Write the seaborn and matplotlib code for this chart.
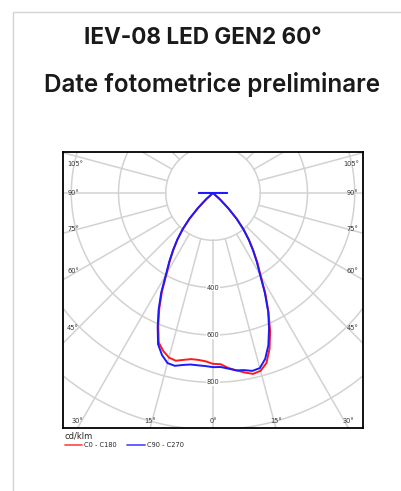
import numpy as np
import pandas as pd
import matplotlib
matplotlib.use("Agg")
import matplotlib.pyplot as plt
import seaborn as sns
from matplotlib.patches import Rectangle

# Photometric data, cd/klm, gamma angle measured from nadir
gamma = [0, 2.5, 5, 7.5, 10, 12.5, 15, 17.5, 20, 22.5, 25, 27.5, 30, 32.5, 35,
         37.5, 40, 42.5, 45, 47.5, 50, 55, 60, 65, 70, 75, 80, 85, 90]
c0 = [722, 724, 742, 756, 770, 783, 778, 753, 700, 632, 555, 480, 403, 350, 298,
      250, 202, 150, 92, 40, 0, 0, 0, 0, 0, 0, 0, 0, 60]
c180 = [722, 712, 708, 708, 716, 726, 720, 700, 672, 606, 538, 467, 393, 340, 292,
        246, 198, 146, 88, 38, 0, 0, 0, 0, 0, 0, 0, 0, 60]
c90 = [736, 736, 745, 756, 760, 770, 766, 735, 685, 620, 553, 475, 398, 345, 295,
       248, 200, 148, 90, 40, 0, 0, 0, 0, 0, 0, 0, 0, 60]
c270 = [736, 732, 731, 731, 738, 748, 744, 718, 680, 612, 545, 475, 398, 345, 295,
        248, 200, 148, 90, 40, 0, 0, 0, 0, 0, 0, 0, 0, 60]

ring_values = [200, 400, 600, 800, 1000, 1200, 1400]
ring_labels = [400, 600, 800]
bottom_angles = [30, 15, 0, 15, 30]
side_angles = [45, 60, 75, 90, 105]
series_names = ["C0 - C180", "C90 - C270"]
series_colors = ["#ff1a1a", "#1a1aff"]


def plane_xy(right, left):
    g = np.radians(gamma)
    right = np.asarray(right, float)
    left = np.asarray(left, float)
    x = np.concatenate([-left[::-1] * np.sin(g[::-1]), right * np.sin(g)])
    y = np.concatenate([-left[::-1] * np.cos(g[::-1]), -right * np.cos(g)])
    return pd.DataFrame({"x": x, "y": y})


sns.set_style("white")
plt.rcParams["font.family"] = ["DejaVu Sans"]

fig = plt.figure(figsize=(4.01, 4.91), dpi=100)

# card border
fig.patches.append(Rectangle((13 / 401, -0.1), 1.2, 1 - 12 / 491 + 0.1,
                             transform=fig.transFigure, fill=False,
                             ec="#d4d4d4", lw=1.0))

fig.text(203 / 401, 1 - 37.5 / 491, "IEV-08 LED GEN2 60°", ha="center", va="center",
         fontsize=16.2, fontweight="bold", family="Inter", color="#1a1a1a")
fig.text(212 / 401, 1 - 84.5 / 491, "Date fotometrice preliminare", ha="center",
         va="center", fontsize=17.5, fontweight="semibold", family="Inter",
         color="#1a1a1a")

ax = fig.add_axes([63 / 401, 63 / 491, 300 / 401, 276 / 491])
xmax = 635
ymin, ymax = -993, 173
ax.set_xlim(-xmax, xmax)
ax.set_ylim(ymin, ymax)

grid_kw = dict(color="#d2d2d2", lw=1.1, zorder=1)
t = np.linspace(0, 2 * np.pi, 721)
for r in ring_values:
    ax.plot(r * np.sin(t), -r * np.cos(t), **grid_kw)
for a in range(0, 360, 15):
    ar = np.radians(a)
    ax.plot([200 * np.sin(ar), 3000 * np.sin(ar)],
            [-200 * np.cos(ar), -3000 * np.cos(ar)], **grid_kw)

for r in ring_labels:
    ax.text(0, -r, str(r), ha="center", va="center", fontsize=4.8, color="#333333",
            bbox=dict(fc="white", ec="none", pad=0.6), zorder=2)

# angle labels along the frame
for a in side_angles:
    yy = -0.9 * xmax / np.tan(np.radians(a))
    yy = min(yy, ymax - 50)
    ax.annotate(f"{a}°", (-xmax, yy), xytext=(3, 0), textcoords="offset points",
                ha="left", va="center", fontsize=4.8, color="#333333")
    ax.annotate(f"{a}°", (xmax, yy), xytext=(-3, 0), textcoords="offset points",
                ha="right", va="center", fontsize=4.8, color="#333333")
for i, a in enumerate(bottom_angles):
    sign = -1 if i < 2 else 1
    xx = sign * (-ymin) * np.tan(np.radians(a))
    ax.annotate(f"{a}°", (xx, ymin), xytext=(0, 5), textcoords="offset points",
                ha="center", va="center", fontsize=4.8, color="#333333")

df_red = plane_xy(c0, c180)
df_blue = plane_xy(c90, c270)
sns.lineplot(data=df_red, x="x", y="y", sort=False, estimator=None, ax=ax,
             color=series_colors[0], lw=1.4, label=series_names[0], zorder=3)
sns.lineplot(data=df_blue, x="x", y="y", sort=False, estimator=None, ax=ax,
             color=series_colors[1], lw=1.4, label=series_names[1], zorder=4)

ax.set_xticks([])
ax.set_yticks([])
ax.set_xlabel("")
ax.set_ylabel("")
for s in ax.spines.values():
    s.set_visible(True)
    s.set_color("black")
    s.set_linewidth(1.3)

leg = ax.legend(loc="upper left", bbox_to_anchor=(0.005, -0.012), ncol=2,
                title="cd/klm", alignment="left", frameon=False, fontsize=4.8,
                title_fontsize=6, handlelength=2.6, handletextpad=0.4,
                columnspacing=1.5, borderpad=0, borderaxespad=0, labelspacing=0.1)
leg._legend_box.sep = 1.5
for h in leg.legend_handles:
    h.set_alpha(0.75)
    h.set_linewidth(1.3)

fig.savefig("out.png", dpi=100)
